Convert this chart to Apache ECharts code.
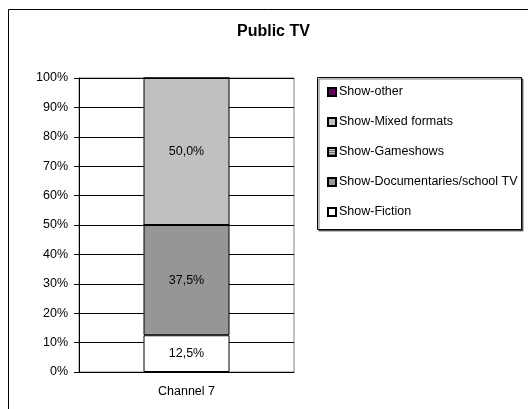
<!DOCTYPE html>
<html>
<head>
<meta charset="utf-8">
<script src="https://cdn.jsdelivr.net/npm/echarts@6/dist/echarts.min.js"></script>
<style>
  html, body { margin: 0; padding: 0; background: #fff; }
  #chart { width: 528px; height: 409px; }
</style>
</head>
<body>
<div id="chart"></div>
<script>
// Share of show genres on the public channel (stacked to 100%)
const categories = ['Channel 7'];
const seriesNames = ['Show-Fiction', 'Show-Documentaries/school TV', 'Show-Gameshows', 'Show-Mixed formats', 'Show-other'];
const fiction = [0.125];
const documentaries = [0.375];
const gameshows = [0];
const mixedFormats = [0.5];
const other = [0];
const yTicks = [0, 0.1, 0.2, 0.3, 0.4, 0.5, 0.6, 0.7, 0.8, 0.9, 1];

const seriesValues = [fiction, documentaries, gameshows, mixedFormats, other];
const seriesColors = ['#ffffff', '#969696', '#c8c8c8', '#c0c0c0', '#660066'];
const legendOrder = ['Show-other', 'Show-Mixed formats', 'Show-Gameshows', 'Show-Documentaries/school TV', 'Show-Fiction'];

const FONT = 'Liberation Sans, Arial, sans-serif';
const FS = 12.5;

function pct(v) {
  return (v * 100).toFixed(1).replace('.', ',') + '%';
}

const chart = echarts.init(document.getElementById('chart'), null, { renderer: 'canvas' });

chart.setOption({
  animation: false,
  backgroundColor: '#ffffff',
  title: {
    text: 'Public TV',
    left: 237,
    top: 24,
    padding: 0,
    textStyle: { fontFamily: FONT, fontSize: 16, fontWeight: 'bold', color: '#000' }
  },
  graphic: [
    {
      // outer chart frame
      type: 'rect',
      shape: { x: 8.5, y: 9.5, width: 540, height: 420 },
      style: { fill: 'none', stroke: '#000', lineWidth: 1 },
      z: -1
    },
    {
      // legend frame
      type: 'rect',
      shape: { x: 317.5, y: 77.5, width: 204, height: 152 },
      style: {
        fill: '#fff', stroke: '#000', lineWidth: 1,
        shadowColor: 'rgba(0,0,0,0.55)', shadowOffsetX: 1.5, shadowOffsetY: 1.5, shadowBlur: 0
      },
      z: 0
    }
  ],
  legend: {
    orient: 'vertical',
    left: 317,
    top: 77,
    padding: [8, 2, 8, 10],
    itemGap: 16,
    itemWidth: 8,
    itemHeight: 8,
    icon: 'rect',
    data: legendOrder,
    z: 5,
    textStyle: { fontFamily: FONT, fontSize: FS, lineHeight: 14, color: '#000', padding: [0, 0, 0, -2] }
  },
  grid: {
    left: 79,
    top: 78,
    width: 215,
    height: 294,
    show: true,
    borderColor: '#808080',
    borderWidth: 1,
    backgroundColor: '#fff'
  },
  xAxis: {
    type: 'category',
    data: categories,
    axisLine: { show: true, lineStyle: { color: '#000' } },
    axisTick: { show: false },
    axisLabel: { fontFamily: FONT, fontSize: FS, color: '#000', margin: 13 }
  },
  yAxis: {
    type: 'value',
    min: yTicks[0],
    max: yTicks[yTicks.length - 1],
    interval: 0.1,
    axisLine: { show: true, lineStyle: { color: '#000' } },
    axisTick: { show: true, length: 5, lineStyle: { color: '#000' } },
    splitLine: { show: true, lineStyle: { color: '#000', width: 1 } },
    axisLabel: {
      fontFamily: FONT, fontSize: FS, color: '#000', margin: 11,
      formatter: v => Math.round(v * 100) + '%'
    }
  },
  series: seriesNames.map((name, i) => ({
    name,
    type: 'bar',
    stack: 'total',
    barWidth: '40%',
    data: seriesValues[i],
    itemStyle: Object.assign(
      { color: seriesColors[i], borderColor: '#000', borderWidth: 1 },
      name === 'Show-Gameshows'
        ? { decal: { symbol: 'rect', symbolSize: 1, dashArrayX: [1, 0], dashArrayY: [1, 1], rotation: 0, color: '#707070' } }
        : {}
    ),
    label: {
      show: true,
      position: 'inside',
      fontFamily: FONT,
      fontSize: FS,
      color: '#000',
      formatter: p => (p.value > 0 ? pct(p.value) : '')
    }
  }))
});
</script>
</body>
</html>
